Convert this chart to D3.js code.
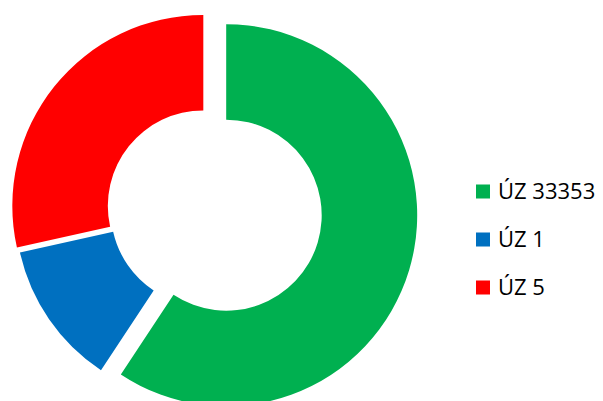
<!DOCTYPE html>
<html>
<head>
<meta charset="utf-8">
<script src="https://cdn.jsdelivr.net/npm/d3@7"></script>
<style>
	body { margin: 0; background: #fff; }
	svg { display: block; }
</style>
</head>
<body>
<script>
// chart data (share of each ÚZ)
var categories = ["ÚZ 33353", "ÚZ 1", "ÚZ 5"];
var values = [59.3, 12.2, 28.5];
var colors = ["#00B050", "#0070C0", "#FF0000"];

// point explosion (px, along each slice's mid angle)
var explode = [19, 2, 6];

var width = 603, height = 401;
var cx = 208, cy = 209.7;
var outerR = 191, innerR = 95.5;

var svg = d3.select("body").append("svg")
	.attr("width", width)
	.attr("height", height);

var pie = d3.pie()
	.sort(null)
	.value(function(d) { return d; });

var arc = d3.arc()
	.innerRadius(innerR)
	.outerRadius(outerR);

var g = svg.append("g")
	.attr("transform", "translate(" + cx + "," + cy + ")");

g.selectAll("path")
	.data(pie(values))
	.enter().append("path")
	.attr("d", arc)
	.attr("fill", function(d, i) { return colors[i]; })
	.attr("transform", function(d, i) {
		var mid = (d.startAngle + d.endAngle) / 2;
		var dx = explode[i] * Math.sin(mid);
		var dy = -explode[i] * Math.cos(mid);
		return "translate(" + dx + "," + dy + ")";
	});

// legend
var legendY = d3.scalePoint()
	.domain(categories)
	.range([199, 295]);

var legend = svg.append("g")
	.selectAll("g")
	.data(categories)
	.enter().append("g")
	.attr("transform", function(d) { return "translate(476," + legendY(d) + ")"; });

legend.append("rect")
	.attr("x", 0)
	.attr("y", -14.5)
	.attr("width", 14)
	.attr("height", 14)
	.attr("fill", function(d, i) { return colors[i]; });

legend.append("text")
	.attr("x", 22)
	.attr("y", 0)
	.style("font-family", "'Open Sans', sans-serif")
	.style("font-size", "22px")
	.style("fill", "#000")
	.text(function(d) { return d; });
</script>
</body>
</html>
